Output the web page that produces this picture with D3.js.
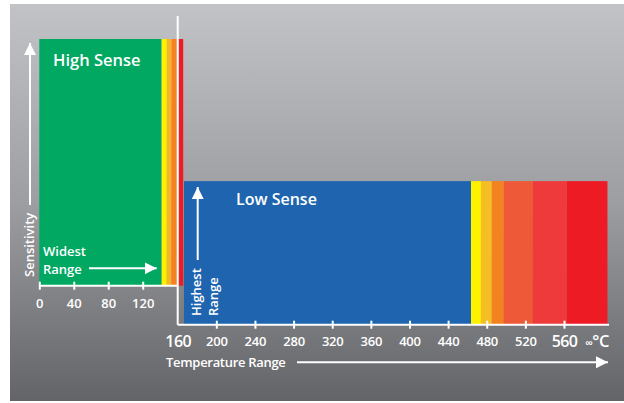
<!DOCTYPE html>
<html>
<meta charset="utf-8">
<head>
  <title>Sensitivity vs temperature range</title>
</head>
<style>
body { margin: 0; background: #fff; }
text {
  font-family: "Open Sans", "Noto Sans", sans-serif;
  font-weight: 600;
  fill: white;
}
.axis line, .axis path { stroke: white; stroke-width: 2; }
</style>
<body>
<svg width="624" height="403"></svg>
<script src="https://cdnjs.cloudflare.com/ajax/libs/d3/7.8.5/d3.min.js"></script>
<script>
// high sense bands (temperature from, to, colour)
var highFrom   = [0, 142, 148, 153.5, 161.5];
var highTo     = [142, 148, 153.5, 160.5, 167];
var highColors = ['#00a862', '#fff200', '#f6b626', '#f58220', '#ed1c24'];
var highSense  = 100;

// low sense bands
var lowFrom   = [166.5, 463.7, 474, 485.3, 497.7, 527.8, 563];
var lowTo     = [463.7, 474, 485.3, 497.7, 527.8, 563, 605];
var lowColors = ['#1e64af', '#fff200', '#f5be25', '#f58220', '#ee5a38', '#ee3a3b', '#ed1c24'];
var lowSense  = 58.2;

var highTicks = [0, 40, 80, 120];
var lowTicks  = [160, 200, 240, 280, 320, 360, 400, 440, 480, 520, 560];

var svg = d3.select('svg');

// background panel
var grad = svg.append('defs').append('linearGradient')
  .attr('id', 'bg').attr('x1', 0).attr('y1', 0).attr('x2', 0).attr('y2', 1);
grad.append('stop').attr('offset', '0%').attr('stop-color', '#c2c3c7');
grad.append('stop').attr('offset', '50%').attr('stop-color', '#9d9ea2');
grad.append('stop').attr('offset', '100%').attr('stop-color', '#636468');

var marker = svg.select('defs').append('marker')
  .attr('id', 'head').attr('viewBox', '0 0 12 12')
  .attr('refX', 12).attr('refY', 6)
  .attr('markerWidth', 12).attr('markerHeight', 12)
  .attr('markerUnits', 'userSpaceOnUse')
  .attr('orient', 'auto');
marker.append('path').attr('d', 'M0,0L12,6L0,12Z').attr('fill', 'white');

svg.append('rect')
  .attr('x', 10).attr('y', 4).attr('width', 614).attr('height', 397)
  .attr('fill', 'url(#bg)');

// scales
var xHigh = d3.scaleLinear().domain([0, 120]).range([39.3, 142.7]);
var xLow  = d3.scaleLinear().domain([160, 560]).range([177.7, 564]);
var yHigh = d3.scaleLinear().domain([0, 100]).range([285.7, 39]);
var yLow  = d3.scaleLinear().domain([0, 100]).range([324.7, 78]);

// bars
svg.append('g').selectAll('rect')
  .data(highFrom)
  .join('rect')
  .attr('x', function(d) { return xHigh(d); })
  .attr('width', function(d, i) { return xHigh(highTo[i]) - xHigh(d); })
  .attr('y', yHigh(highSense))
  .attr('height', yHigh(0) - yHigh(highSense))
  .attr('fill', function(d, i) { return highColors[i]; });

svg.append('g').selectAll('rect')
  .data(lowFrom)
  .join('rect')
  .attr('x', function(d) { return xLow(d); })
  .attr('width', function(d, i) { return xLow(lowTo[i]) - xLow(d); })
  .attr('y', yLow(lowSense))
  .attr('height', yLow(0) - yLow(lowSense))
  .attr('fill', function(d, i) { return lowColors[i]; });

// axes
var gHigh = svg.append('g').attr('class', 'axis')
  .attr('transform', 'translate(0,' + yHigh(0) + ')')
  .call(d3.axisBottom(xHigh).tickValues(highTicks).tickSize(0).tickPadding(13));
gHigh.select('.domain').attr('d', 'M' + xHigh(0) + ',0H' + xHigh(160));
gHigh.selectAll('.tick line').attr('y1', -4).attr('y2', 4);
gHigh.selectAll('.tick text').attr('font-size', 13).attr('font-family', null);

var big = function(d) { return d === 160 || d === 560; };
var gLow = svg.append('g').attr('class', 'axis')
  .attr('transform', 'translate(0,' + yLow(0) + ')')
  .call(d3.axisBottom(xLow).tickValues(lowTicks).tickSize(0).tickPadding(12));
gLow.select('.domain').attr('d', 'M' + xLow(160) + ',0H' + xLow(606.6));
gLow.selectAll('.tick line').attr('y1', -4).attr('y2', 4);
gLow.selectAll('.tick text')
  .attr('font-family', null)
  .attr('font-size', function(d) { return big(d) ? 16 : 13; })
  .attr('letter-spacing', function(d) { return big(d) ? -0.6 : -0.2; })
  .attr('dy', function(d) { return big(d) ? '0.62em' : '0.71em'; });
gLow.select('.tick line').remove();

// vertical axis of low sense chart
svg.append('line')
  .attr('x1', xLow(160)).attr('x2', xLow(160))
  .attr('y1', 16).attr('y2', yLow(0))
  .attr('stroke', 'white').attr('stroke-width', 2);

svg.append('text')
  .attr('x', 609).attr('y', 347)
  .attr('text-anchor', 'end')
  .attr('font-size', 16.5)
  .attr('letter-spacing', -0.4)
  .html('<tspan font-size="11">\u221e</tspan>\u00b0C');

// arrows
function arrow(x1, y1, x2, y2) {
  svg.append('line')
    .attr('x1', x1).attr('y1', y1).attr('x2', x2).attr('y2', y2)
    .attr('stroke', 'white').attr('stroke-width', 2)
    .attr('marker-end', 'url(#head)');
}
arrow(30, 205, 30, 43);
arrow(197.7, 260, 197.7, 187);
arrow(89, 268.3, 156.7, 268.3);
arrow(297, 362.3, 608, 362.3);

// labels
svg.append('text').attr('x', 53).attr('y', 66).attr('font-size', 16.5).text('High Sense');
svg.append('text').attr('x', 236).attr('y', 205).attr('font-size', 16).text('Low Sense');
svg.append('text').attr('x', 43).attr('y', 256).attr('font-size', 13).text('Widest');
svg.append('text').attr('x', 43).attr('y', 274).attr('font-size', 13).text('Range');
svg.append('text').attr('x', 166).attr('y', 367).attr('font-size', 13).attr('letter-spacing', -0.3).text('Temperature Range');

svg.append('text')
  .attr('transform', 'translate(34,277) rotate(-90)')
  .attr('font-size', 13).text('Sensitivity');
svg.append('text')
  .attr('transform', 'translate(201,316) rotate(-90)')
  .attr('font-size', 13).text('Highest');
svg.append('text')
  .attr('transform', 'translate(218,316) rotate(-90)')
  .attr('font-size', 13).text('Range');
</script>
</body>
</html>
